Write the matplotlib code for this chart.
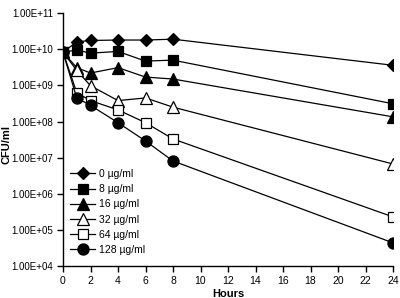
import matplotlib.pyplot as plt
from matplotlib.ticker import FixedLocator, FuncFormatter, NullLocator
import numpy as np

plt.rcParams['font.family'] = ['Liberation Sans', 'DejaVu Sans']

# データ
hours = [0, 1, 2, 4, 6, 8, 24]
labels = ['0 µg/ml', '8 µg/ml', '16 µg/ml', '32 µg/ml', '64 µg/ml', '128 µg/ml']
cfu_0 = [8.3e9, 1.6e10, 1.75e10, 1.8e10, 1.8e10, 1.9e10, 3.6e9]
cfu_8 = [8.3e9, 9.5e9, 7.8e9, 8.7e9, 4.7e9, 5.0e9, 3.1e8]
cfu_16 = [8.3e9, 3.1e9, 2.2e9, 3.1e9, 1.7e9, 1.5e9, 1.35e8]
cfu_32 = [8.3e9, 2.6e9, 9.8e8, 3.8e8, 4.5e8, 2.5e8, 6.7e6]
cfu_64 = [8.3e9, 6.3e8, 3.8e8, 2.1e8, 9.3e7, 3.3e7, 2.3e5]
cfu_128 = [8.3e9, 4.5e8, 2.8e8, 9.3e7, 2.9e7, 8.1e6, 4.4e4]
x_ticks = [0, 2, 4, 6, 8, 10, 12, 14, 16, 18, 20, 22, 24]
y_ticks = [1e4, 1e5, 1e6, 1e7, 1e8, 1e9, 1e10, 1e11]

series = [cfu_0, cfu_8, cfu_16, cfu_32, cfu_64, cfu_128]
markers = ['D', 's', '^', '^', 's', 'o']
faces = ['black', 'black', 'black', 'white', 'white', 'black']
sizes = [6.5, 6.5, 8.5, 8.5, 6.5, 8]

fig = plt.figure(figsize=(4, 2.98), dpi=100)
ax = fig.add_axes([0.1575, 0.107, 0.825, 0.849])

for ys, m, fc, ms, lab in zip(series, markers, faces, sizes, labels):
    ax.plot(hours, ys, color='black', lw=0.9, marker=m, ms=ms,
            mfc=fc, mec='black', mew=0.9, label=lab)

ax.set_yscale('log')
ax.set_ylim(1e4, 1e11)
ax.set_xlim(0, 24)
ax.yaxis.set_major_locator(FixedLocator(y_ticks))
ax.yaxis.set_minor_locator(NullLocator())
ax.yaxis.set_major_formatter(FuncFormatter(lambda v, p: '%.2fE+%02d' % (1.0, round(np.log10(v)))))
ax.set_xticks(x_ticks)

for s in ['top', 'right']:
    ax.spines[s].set_visible(False)
for s in ['left', 'bottom']:
    ax.spines[s].set_linewidth(1.0)
ax.tick_params(direction='out', length=4, width=1.0, labelsize=7, pad=3)
ax.tick_params(axis='x', labelsize=7.5)

ax.set_xlabel('Hours', fontsize=8, fontweight='bold', labelpad=2)
ax.set_ylabel('CFU/ml', fontsize=8, fontweight='bold')
ax.yaxis.set_label_coords(-0.155, 0.48)

ax.legend(loc='upper left', bbox_to_anchor=(0.01, 0.40), frameon=False,
          fontsize=7.5, handlelength=2.4, handletextpad=0.35, labelspacing=0.5,
          borderaxespad=0)

plt.savefig('out.png', dpi=100)
